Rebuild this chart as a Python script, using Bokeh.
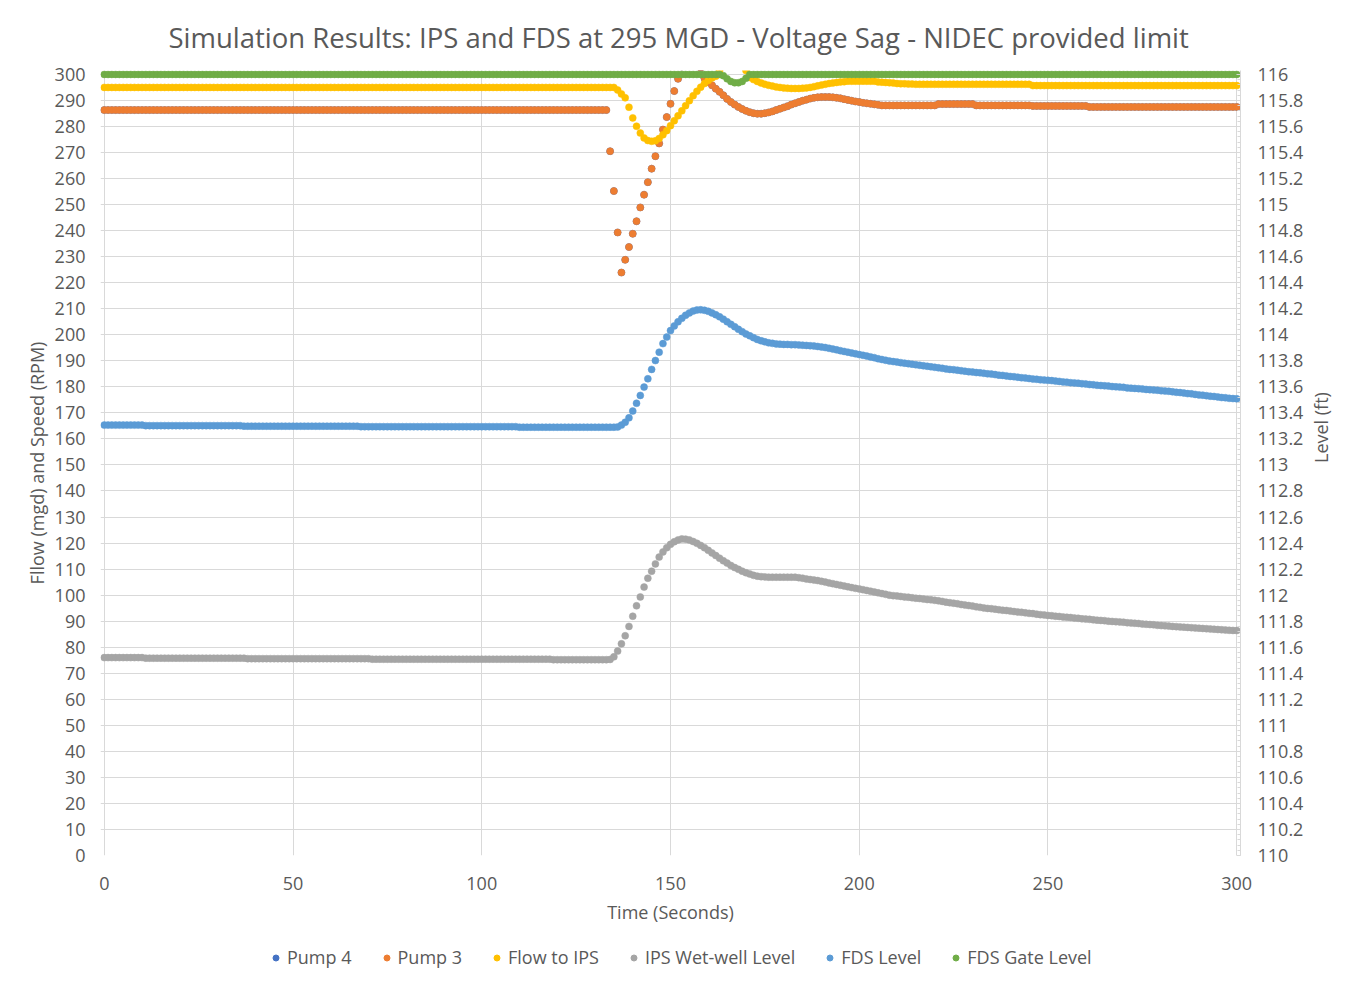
import math
from bokeh.plotting import figure
from bokeh.layouts import column
from bokeh.models import (Range1d, LinearAxis, FixedTicker, CustomJSTickFormatter,
                          Legend, LegendItem)
from bokeh.embed import file_html
from bokeh.resources import INLINE

# ---------------- data ----------------
time_s = list(range(0, 301))

x_ticks = [0, 50, 100, 150, 200, 250, 300]
flow_ticks = [0, 10, 20, 30, 40, 50, 60, 70, 80, 90, 100, 110, 120, 130, 140, 150,
              160, 170, 180, 190, 200, 210, 220, 230, 240, 250, 260, 270, 280, 290, 300]
level_ticks = [110.0, 110.2, 110.4, 110.6, 110.8, 111.0, 111.2, 111.4, 111.6, 111.8,
               112.0, 112.2, 112.4, 112.6, 112.8, 113.0, 113.2, 113.4, 113.6, 113.8,
               114.0, 114.2, 114.4, 114.6, 114.8, 115.0, 115.2, 115.4, 115.6, 115.8, 116.0]

series_names = ["Pump 4", "Pump 3", "Flow to IPS", "IPS Wet-well Level", "FDS Level", "FDS Gate Level"]

# Pump 3 speed (RPM)
pump3_rpm = ([286.3] * 134 +
             [270.5, 255.2, 239.3, 223.9, 228.8, 233.7, 238.8, 243.6, 248.9, 253.8,
              258.6, 263.8, 268.6, 273.5, 278.8, 283.6, 288.7, 293.6, 298.3, 303.0,
              306.0, 308.0, 308.0, 306.0, 302.5, 298.5, 297.0, 295.8, 294.5, 293.3,
              292.0, 290.6, 289.4, 288.4, 287.5, 286.7, 286.0, 285.5, 285.1, 284.9,
              284.9, 285.1, 285.4, 285.8, 286.3, 286.8, 287.3, 287.8, 288.4, 288.9,
              289.4, 289.9, 290.3, 290.7, 291.0, 291.2, 291.3, 291.3, 291.3, 291.2,
              291.0, 290.8, 290.5, 290.2, 289.9, 289.6, 289.4, 289.1, 288.9, 288.7,
              288.5, 288.3] +
             [288.1] * 15 + [288.6] * 10 + [288.1] * 15 + [287.9] * 15 + [287.5] * 40)

# Pump 4 runs at the same speed as Pump 3 (drawn underneath it)
pump4_rpm = list(pump3_rpm)

# Flow to IPS (mgd)
flow_ips_mgd = ([295.0] * 136 +
                [294.0, 292.5, 291.0, 287.4, 283.3, 280.1, 277.5, 275.6, 274.6, 274.3,
                 274.5, 275.4, 276.8, 278.4, 280.3, 282.2, 284.1, 286.0, 288.0, 289.9,
                 291.8, 293.5, 295.1, 296.5, 297.7, 298.6, 299.3, 301.5, 304.0, 305.5,
                 306.0, 306.0, 305.5, 304.0, 301.5, 298.8, 298.0, 297.3, 296.7, 296.2,
                 295.8, 295.5, 295.2, 295.0, 294.8, 294.7, 294.6, 294.6, 294.6, 294.7,
                 294.8, 295.0, 295.3, 295.6, 295.9, 296.2, 296.5, 296.7, 296.9, 297.1,
                 297.2, 297.4, 297.4, 297.4, 297.4, 297.4, 297.4, 297.4, 297.4, 297.1,
                 297.0, 296.9, 296.8, 296.7, 296.5, 296.4, 296.4, 296.3, 296.3] +
                [296.2] * 31 + [295.7] * 55)

# IPS wet-well level (ft)
ips_wetwell_ft = ([111.520] * 11 + [111.516] * 27 + [111.512] * 33 + [111.508] * 48 + [111.504] * 15 +
                  [111.506, 111.526, 111.570, 111.626, 111.688, 111.760, 111.838, 111.918, 111.986, 112.062,
                   112.130, 112.184, 112.240, 112.292, 112.332, 112.364, 112.390, 112.410, 112.424, 112.432,
                   112.430, 112.424, 112.412, 112.398, 112.382, 112.364, 112.344, 112.324, 112.304, 112.284,
                   112.264, 112.246, 112.228, 112.212, 112.198, 112.184, 112.172, 112.162, 112.152, 112.146,
                   112.142, 112.140] +
                  [112.138] * 8 +
                  [112.134, 112.130, 112.124, 112.120, 112.116, 112.112, 112.106, 112.100, 112.094, 112.088,
                   112.082, 112.076, 112.070, 112.064, 112.058, 112.052, 112.048, 112.042, 112.036, 112.030,
                   112.024, 112.018, 112.012, 112.006, 112.000, 111.996, 111.994, 111.990, 111.986, 111.984,
                   111.980, 111.976, 111.974, 111.970, 111.966, 111.964, 111.960, 111.956, 111.952, 111.946,
                   111.942, 111.938, 111.934, 111.928, 111.924, 111.920, 111.916, 111.910, 111.906, 111.902,
                   111.898, 111.896, 111.892, 111.888, 111.884, 111.882, 111.878, 111.874, 111.870, 111.868,
                   111.864, 111.860, 111.858, 111.854, 111.850, 111.848, 111.844, 111.842, 111.838, 111.836,
                   111.832, 111.830, 111.828, 111.824, 111.822, 111.818, 111.816, 111.814, 111.810, 111.808,
                   111.806, 111.804, 111.800, 111.798, 111.796, 111.794, 111.792, 111.788, 111.786, 111.784,
                   111.782, 111.778, 111.776, 111.774, 111.772, 111.768, 111.766, 111.764, 111.762, 111.760,
                   111.758, 111.756, 111.754, 111.752, 111.750, 111.748, 111.746, 111.744, 111.742, 111.740,
                   111.738, 111.736, 111.734, 111.732, 111.730, 111.729, 111.728])

# FDS level (ft)
fds_level_ft = ([113.306] * 11 + [113.302] * 26 + [113.298] * 31 + [113.294] * 42 + [113.290] * 26 +
                [113.292, 113.306, 113.328, 113.362, 113.414, 113.474, 113.534, 113.598, 113.662, 113.734,
                 113.802, 113.866, 113.932, 113.982, 114.032, 114.068, 114.100, 114.126, 114.150, 114.168,
                 114.182, 114.190, 114.192, 114.188, 114.180, 114.168, 114.154, 114.138, 114.120, 114.100,
                 114.080, 114.062, 114.042, 114.024, 114.006, 113.992, 113.978, 113.964, 113.954, 113.946,
                 113.938, 113.934, 113.930, 113.928, 113.926, 113.926, 113.924, 113.924, 113.922, 113.920,
                 113.918, 113.916, 113.914, 113.910, 113.906, 113.902, 113.896, 113.890, 113.884, 113.878,
                 113.872, 113.866, 113.860, 113.854, 113.848, 113.842, 113.836, 113.830, 113.824, 113.816,
                 113.810, 113.804, 113.798, 113.794, 113.790, 113.786, 113.782, 113.778, 113.774, 113.770] +
                [113.766, 113.762, 113.758, 113.754, 113.750, 113.746, 113.742, 113.738, 113.734, 113.732,
                 113.728, 113.724, 113.720] +
                [113.716, 113.714, 113.710, 113.708, 113.704, 113.700, 113.698, 113.694, 113.690, 113.688,
                 113.684, 113.680, 113.678, 113.674, 113.670, 113.668, 113.664, 113.660, 113.658, 113.654,
                 113.652, 113.650] +
                [113.648, 113.644, 113.642, 113.638, 113.636, 113.632, 113.630, 113.628, 113.624, 113.622,
                 113.618, 113.616, 113.612, 113.610] +
                [113.608, 113.606, 113.602, 113.600, 113.598, 113.596, 113.592, 113.590, 113.588, 113.586,
                 113.584, 113.580, 113.578, 113.576, 113.574, 113.570, 113.568, 113.566] +
                [113.562, 113.558, 113.556, 113.552, 113.548, 113.546, 113.542, 113.538, 113.536, 113.532,
                 113.528, 113.526, 113.522, 113.518, 113.516, 113.512, 113.510, 113.508])

# FDS gate level (ft)
fds_gate_ft = ([116.0] * 164 +
               [115.99, 115.966, 115.946, 115.936, 115.936, 115.946, 115.97] +
               [116.0] * 130)

for name, arr in [("pump3", pump3_rpm), ("flow", flow_ips_mgd), ("ips", ips_wetwell_ft),
                  ("fds", fds_level_ft), ("gate", fds_gate_ft)]:
    assert len(arr) == len(time_s), (name, len(arr))

# ---------------- styling ----------------
FONT = "Open Sans"
TXT = "#595959"
GRID = "#d9d9d9"
COLORS = ["#4472C4", "#ED7D31", "#FFC000", "#A5A5A5", "#5B9BD5", "#70AD47"]

p = figure(width=1350, height=935,
           x_range=Range1d(-1, 301), y_range=Range1d(0, 301.5),
           output_backend="svg", toolbar_location=None,
           min_border_left=100, min_border_right=110, min_border_top=70, min_border_bottom=80,
           title="Simulation Results: IPS and FDS at 295 MGD - Voltage Sag - NIDEC provided limit")
p.extra_y_ranges = {"lvl": Range1d(110, 116.03)}
p.outline_line_color = None
p.background_fill_color = "white"
p.border_fill_color = "white"

p.title.text_font = FONT
p.title.text_font_size = "27.5px"
p.title.text_font_style = "normal"
p.title.text_color = TXT
p.title.align = "left"
p.title.offset = 68
p.title.standoff = 29

# bottom axis
xa = p.xaxis[0]
xa.ticker = FixedTicker(ticks=x_ticks)
xa.axis_label = "Time (Seconds)"
# left axis
ya = p.yaxis[0]
ya.ticker = FixedTicker(ticks=flow_ticks)
ya.axis_label = "Fllow (mgd) and Speed (RPM)"
# right axis
ra = LinearAxis(y_range_name="lvl", axis_label="Level (ft)",
                ticker=FixedTicker(ticks=level_ticks,
                                   minor_ticks=[110 + 0.04 * k for k in range(151)]),
                formatter=CustomJSTickFormatter(code="return String(Math.round(tick*10)/10);"))
p.add_layout(ra, "right")

for ax in (xa, ya, ra):
    ax.major_label_text_font = FONT
    ax.major_label_text_font_size = "18px"
    ax.major_label_text_color = TXT
    ax.axis_label_text_font = FONT
    ax.axis_label_text_font_size = "18px"
    ax.axis_label_text_color = TXT
    ax.axis_label_text_font_style = "normal"
    ax.major_tick_out = 0
    ax.major_tick_in = 0
    ax.minor_tick_out = 0
    ax.minor_tick_in = 0
    ax.axis_line_color = None

xa.major_label_standoff = 21
xa.axis_label_standoff = 7
ya.major_label_standoff = 15
ya.axis_label_standoff = 3
ra.major_label_standoff = 17
ra.axis_label_standoff = 15
ra.axis_label_orientation = math.pi / 2
ra.axis_line_color = GRID
ra.major_tick_in = 4
ra.minor_tick_in = 3
ra.major_tick_line_color = GRID
ra.minor_tick_line_color = GRID

p.xgrid.ticker = FixedTicker(ticks=x_ticks)
p.ygrid.ticker = FixedTicker(ticks=flow_ticks)
for g in (p.xgrid[0], p.ygrid[0]):
    g.grid_line_color = GRID
    g.grid_line_width = 1

SZ = 7
series = [(pump4_rpm, "default"), (pump3_rpm, "default"), (flow_ips_mgd, "default"),
          (ips_wetwell_ft, "lvl"), (fds_level_ft, "lvl"), (fds_gate_ft, "lvl")]
for (vals, rng), col in zip(series, COLORS):
    p.scatter(time_s, vals, size=SZ, fill_color=col, line_color=col, line_width=0.5,
              y_range_name=rng)

# ---------------- legend strip below the chart ----------------
lf = figure(width=1350, height=44, x_range=Range1d(0, 1), y_range=Range1d(0, 1),
            output_backend="svg", toolbar_location=None,
            min_border_left=0, min_border_right=0, min_border_top=0, min_border_bottom=0)
lf.axis.visible = False
lf.grid.visible = False
lf.outline_line_color = None
lf.background_fill_color = "white"
lf.border_fill_color = "white"

items = []
for name, col, (vals, rng) in zip(series_names, COLORS, series):
    # one real sample per series; it lies outside this strip's 0..1 range, so only the
    # legend swatch is visible here
    rr = lf.scatter(x=time_s[:1], y=vals[:1], size=SZ, fill_color=col, line_color=col)
    items.append(LegendItem(label=name, renderers=[rr]))

legend = Legend(items=items, orientation="horizontal", location=(168, 10),
                label_text_font=FONT, label_text_font_size="18px", label_text_color=TXT,
                glyph_width=15, glyph_height=15, label_standoff=4, spacing=27,
                border_line_color=None, background_fill_alpha=0,
                margin=0, padding=0)
lf.add_layout(legend, "center")

layout = column(p, lf, spacing=0)
open("out.html", "w").write(file_html(layout, INLINE))
